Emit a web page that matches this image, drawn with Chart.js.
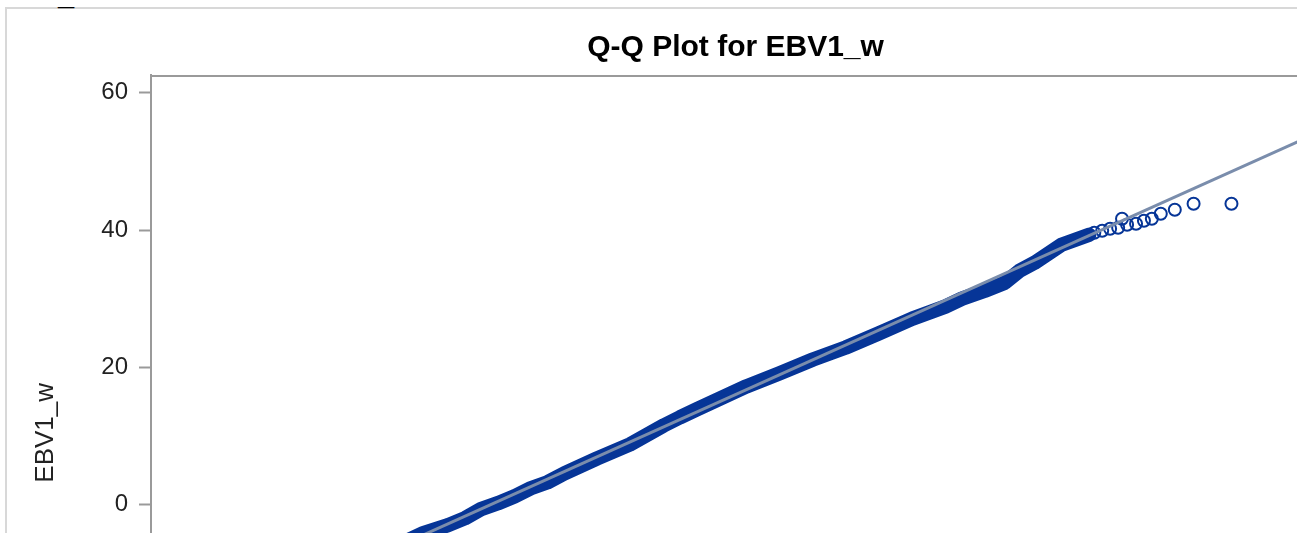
<!DOCTYPE html>
<html>
<head>
<meta charset="utf-8">
<script src="https://cdn.jsdelivr.net/npm/chart.js@4.4.1/dist/chart.umd.min.js"></script>
<style>
  html, body { margin:0; padding:0; background:#fff; overflow:hidden; width:1297px; height:533px; }
  #frame { position:absolute; left:5px; top:7px; width:2000px; height:1000px;
           border-left:2px solid #d8d8d8; border-top:2px solid #d8d8d8; }
  #cut { position:absolute; left:58px; top:-21px; font:bold 29px 'Liberation Sans', Arial, sans-serif; color:#000; }
  #wrap { position:absolute; left:0; top:0; width:1471px; height:816px; }
</style>
</head>
<body>
<div id="frame"></div>
<span id="cut">_</span>
<div id="wrap"><canvas id="qq" width="1471" height="816"></canvas></div>
<script>
// ===== Q-Q plot for EBV1_w =====

// y axis ticks
const Y_TICKS = [-40, -20, 0, 20, 40, 60];

// dense band of points (normal quantile, EBV1_w)
const BAND_Q = [-2.373, -2.173, -2.007, -1.893, -1.787, -1.673, -1.560, -1.453, -1.340, -1.227,
                -1.007, -0.787, -0.560, -0.453, -0.340, -0.007, 0.213, 0.440, 0.660, 0.880,
                1.107, 1.327, 1.440, 1.593, 1.727, 1.827, 1.927, 2.107, 2.293];
const BAND_Y = [-6.21, -4.17, -3.01, -1.99, -0.68, 0.19, 1.21, 2.37, 3.24, 4.55,
                6.73, 8.77, 11.53, 12.70, 13.86, 17.21, 19.10, 21.13, 22.88, 24.92,
                27.10, 28.84, 30.01, 31.17, 32.33, 34.08, 35.24, 37.86, 39.32];

// sparse upper tail (single circles)
const TAIL_Q = [2.327, 2.380, 2.433, 2.487, 2.513, 2.547, 2.607, 2.660, 2.713, 2.773, 2.867, 2.993, 3.247];
const TAIL_Y = [39.60, 39.90, 40.19, 40.33, 41.64, 40.77, 40.91, 41.35, 41.64, 42.37, 42.95, 43.83, 43.83];

// reference line
const REF_Q = [-4, 4.8];
const REF_Y = [-22.3, 63.7];

const FONT = "'Liberation Sans', Arial, sans-serif";
const BLUE = '#063597';
const REF_COLOR = '#7a8dac';

const pts = (xs, ys) => xs.map((x, i) => ({ x, y: ys[i] }));

const topBorder = {
  id: 'topBorder',
  beforeDatasetsDraw(chart) {
    const { ctx, chartArea } = chart;
    ctx.save();
    ctx.strokeStyle = '#9a9a9a';
    ctx.lineWidth = 2;
    ctx.beginPath();
    ctx.moveTo(chartArea.left - 1, chartArea.top + 1);
    ctx.lineTo(chartArea.right, chartArea.top + 1);
    ctx.stroke();
    ctx.restore();
  }
};

new Chart(document.getElementById('qq'), {
  type: 'scatter',
  data: {
    datasets: [
      { label:'Reference', data: pts(REF_Q, REF_Y), showLine:true, borderColor: REF_COLOR,
        borderWidth: 3, pointRadius: 0 },
      { label:'Tail', data: pts(TAIL_Q, TAIL_Y), showLine:false, pointStyle:'circle',
        pointRadius: 6, pointBorderWidth: 2, pointBorderColor: BLUE, pointBackgroundColor:'rgba(0,0,0,0)' },
      { label:'EBV1_w', data: pts(BAND_Q, BAND_Y), showLine:true, borderColor: BLUE,
        borderWidth: 14.5, borderCapStyle:'round', borderJoinStyle:'round', pointRadius: 0 }
    ]
  },
  options: {
    responsive:false, animation:false, devicePixelRatio:1,
    layout:{ padding:{ top:10, left:0, right:0, bottom:8 } },
    plugins:{
      legend:{ display:false }, tooltip:{ enabled:false },
      title:{ display:true, text:'Q-Q Plot for EBV1_w', color:'#000',
        font:{ family:FONT, size:30, weight:'bold' }, padding:{ top:20, bottom:9 } }
    },
    scales:{
      x:{ type:'linear', display:false, min:-4, max:4.8 },
      y:{ type:'linear', min:-41.7, max:62.6,
        afterBuildTicks: s => { s.ticks = Y_TICKS.map(v => ({ value:v })); },
        afterFit: s => { s.width = 151; },
        ticks:{ color:'#222', font:{ family:FONT, size:24 }, padding:11 },
        grid:{ drawOnChartArea:false, drawTicks:true, tickLength:12, tickColor:'#9a9a9a', tickWidth:2 },
        border:{ display:true, color:'#9a9a9a', width:2 },
        title:{ display:true, text:'EBV1_w', color:'#222', font:{ family:FONT, size:26 }, padding:{ top:30, bottom:0 } }
      }
    }
  },
  plugins:[topBorder]
});
</script>
</body>
</html>
